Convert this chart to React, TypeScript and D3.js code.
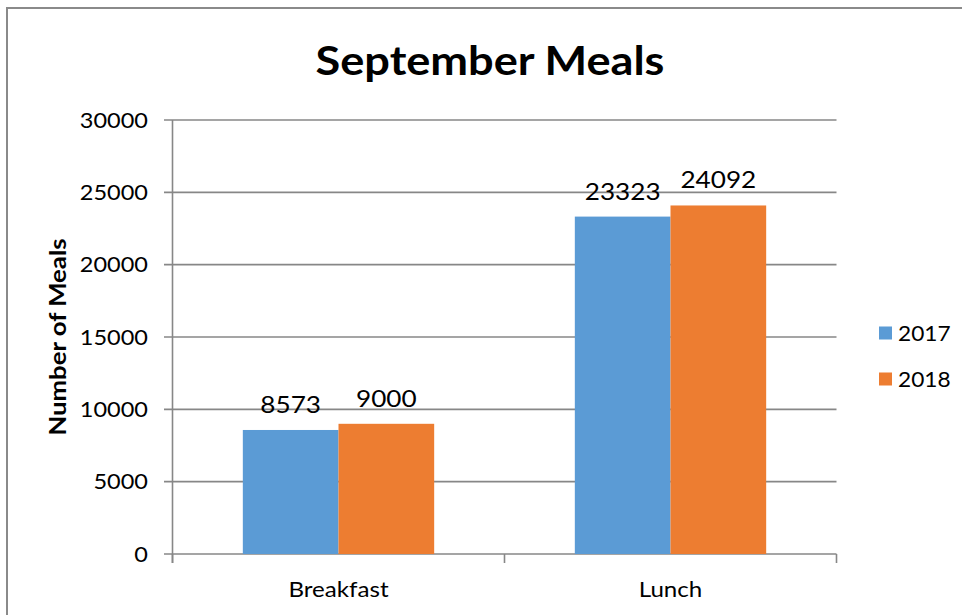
import React from "react";
import * as d3 from "d3";

const categories = ["Breakfast", "Lunch"];
const seriesNames = ["2017", "2018"];
const values2017 = [8573, 23323];
const values2018 = [9000, 24092];
const yTicks = [0, 5000, 10000, 15000, 20000, 25000, 30000];
const colors = ["#5B9BD5", "#ED7D31"];

const W = 962;
const H = 615;
const FONT = "Lato, 'Open Sans', sans-serif";

function T(props: {
  x: number;
  y: number;
  sx?: number;
  rotate?: number;
  anchor?: "start" | "middle" | "end";
  size: number;
  bold?: boolean;
  dy?: string;
  children: React.ReactNode;
}) {
  const { x, y, sx = 1, rotate = 0, anchor = "start", size, bold, dy, children } = props;
  return (
    <text
      transform={`translate(${x},${y}) rotate(${rotate}) scale(${sx},1)`}
      textAnchor={anchor}
      fontSize={size}
      fontWeight={bold ? 700 : 400}
      dy={dy}
      fill="#000"
    >
      {children}
    </text>
  );
}

export default function App() {
  const left = 172.5;
  const right = 836.5;
  const top = 120;
  const bottom = 554;

  const x = d3.scaleBand<string>().domain(categories).range([left, right]).paddingInner(0).paddingOuter(0);
  const y = d3.scaleLinear().domain([0, 30000]).range([bottom, top]);
  const inner = d3.scaleBand<string>().domain(seriesNames).range([0, x.bandwidth()]).paddingInner(0).paddingOuter(0.735);

  const seriesValues = [values2017, values2018];
  const grid = "#878787";

  return (
    <svg width={W} height={H} style={{ position: "absolute", left: 0, top: 0 }} fontFamily={FONT}>
      <rect x={0} y={0} width={W} height={H} fill="#fff" />
      <path d={`M7,${H + 5} V8 H${W + 5}`} fill="none" stroke="#8a8a8a" strokeWidth={2} />
      <T x={490} y={75} anchor="middle" size={41} bold sx={1.1}>
        September Meals
      </T>
      {yTicks.map((t) => (
        <g key={t}>
          <line x1={164} x2={right} y1={y(t)} y2={y(t)} stroke={grid} strokeWidth={1.6} />
          <T x={148} y={y(t)} dy="0.36em" anchor="end" size={21} sx={1.12}>
            {t}
          </T>
        </g>
      ))}
      <line x1={left} x2={left} y1={top} y2={bottom + 9} stroke={grid} strokeWidth={1.6} />
      {[...categories.map((c) => x(c) as number), right].map((px, i) => (
        <line key={i} x1={px} x2={px} y1={bottom} y2={bottom + 9} stroke={grid} strokeWidth={1.6} />
      ))}
      {categories.map((c, ci) => (
        <g key={c}>
          {seriesNames.map((s, si) => {
            const v = seriesValues[si][ci];
            const bx = (x(c) as number) + (inner(s) as number);
            return (
              <g key={s}>
                <rect x={bx} y={y(v)} width={inner.bandwidth()} height={bottom - y(v)} fill={colors[si]} />
                <T x={bx + inner.bandwidth() / 2} y={y(v) - 17} anchor="middle" size={24} sx={1.09}>
                  {v}
                </T>
              </g>
            );
          })}
          <T x={(x(c) as number) + x.bandwidth() / 2} y={597} anchor="middle" size={21} sx={1.15}>
            {c}
          </T>
        </g>
      ))}
      <T x={66} y={(top + bottom) / 2} rotate={-90} anchor="middle" size={22} bold sx={1.17}>
        Number of Meals
      </T>
      {seriesNames.map((s, i) => (
        <g key={s} transform={`translate(879,${333 + i * 46})`}>
          <rect x={0} y={-6.5} width={13} height={13} fill={colors[i]} />
          <T x={19} y={0} dy="0.36em" size={21} sx={1.08}>
            {s}
          </T>
        </g>
      ))}
    </svg>
  );
}
